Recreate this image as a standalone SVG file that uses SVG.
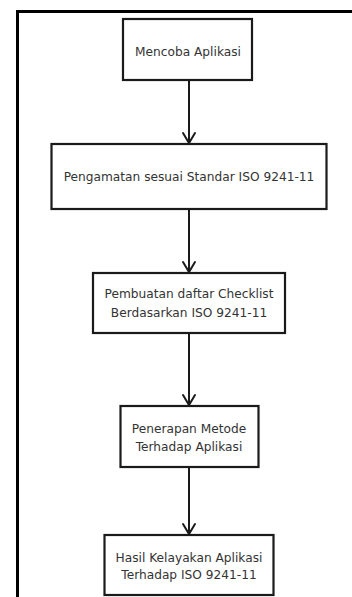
<svg xmlns="http://www.w3.org/2000/svg" width="352" height="597" viewBox="0 0 352 597">
<style>
.box{fill:#fff;stroke:#1a1a1a;stroke-width:2.2}
.lbl{font-family:"DejaVu Sans",Verdana,sans-serif;font-size:12.2px;fill:#333;text-anchor:middle}
.conn{stroke:#1a1a1a;stroke-width:2;fill:none}
.head{stroke:#1a1a1a;stroke-width:2;fill:none;stroke-linecap:round;stroke-linejoin:miter}
.frame{stroke:#000;stroke-width:3;fill:none}
</style>
<rect width="352" height="597" fill="#fff"/>
<path class="frame" d="M17.5,597 V11.5 H352"/>
<g id="connectors">
<line class="conn" x1="189" y1="80" x2="189" y2="143"/>
<polyline class="head" points="183,133 189,143 195,133"/>
<line class="conn" x1="189" y1="209" x2="189" y2="272"/>
<polyline class="head" points="183,262 189,272 195,262"/>
<line class="conn" x1="189" y1="333" x2="189" y2="405"/>
<polyline class="head" points="183,395 189,405 195,395"/>
<line class="conn" x1="189" y1="467" x2="189" y2="534"/>
<polyline class="head" points="183,524 189,534 195,524"/>
</g>
<g id="node1">
<rect class="box" x="123" y="19" width="129" height="61"/>
<text class="lbl" x="188" y="56">Mencoba Aplikasi</text>
</g>
<g id="node2">
<rect class="box" x="51.5" y="144" width="275" height="65"/>
<text class="lbl" x="189" y="181">Pengamatan sesuai Standar ISO 9241-11</text>
</g>
<g id="node3">
<rect class="box" x="93" y="273" width="192" height="60"/>
<text class="lbl" x="189" y="298">Pembuatan daftar Checklist</text>
<text class="lbl" x="189" y="317">Berdasarkan ISO 9241-11</text>
</g>
<g id="node4">
<rect class="box" x="120.5" y="406" width="138" height="61"/>
<text class="lbl" x="189" y="433">Penerapan Metode</text>
<text class="lbl" x="189" y="451">Terhadap Aplikasi</text>
</g>
<g id="node5">
<rect class="box" x="104.5" y="535" width="169" height="60"/>
<text class="lbl" x="189" y="562">Hasil Kelayakan Aplikasi</text>
<text class="lbl" x="189" y="579">Terhadap ISO 9241-11</text>
</g>
</svg>
